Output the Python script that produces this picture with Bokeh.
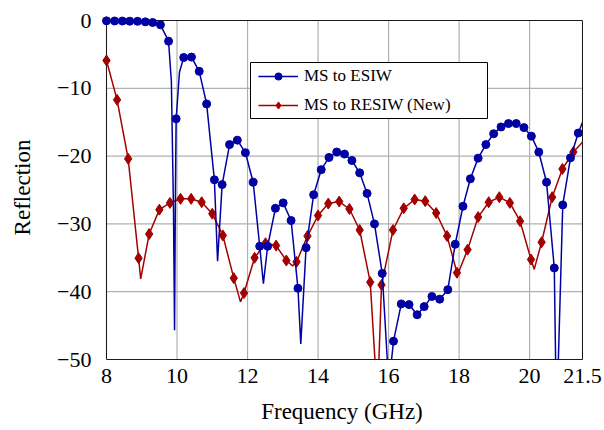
from bokeh.plotting import figure
from bokeh.models import Range1d, FixedTicker, LinearAxis, Legend, LegendItem, BoxAnnotation
from bokeh.embed import file_html
from bokeh.resources import INLINE

# ---------------- data ----------------
X_MIN, X_MAX = 8.0, 21.5
Y_MIN, Y_MAX = -50.0, 0.0
x_ticks = [8, 10, 12, 14, 16, 18, 20, 21.5]
x_tick_labels = ["8", "10", "12", "14", "16", "18", "20", "21.5"]
y_ticks = [-50, -40, -30, -20, -10, 0]
y_tick_labels = ["\u221250", "\u221240", "\u221230", "\u221220", "\u221210", "0"]

# MS to ESIW: marked samples
esiw_freq = [8.00, 8.23, 8.45, 8.66, 8.88, 9.10, 9.31, 9.53, 9.76, 9.975,
             10.19, 10.41, 10.63, 10.84, 11.06, 11.28, 11.49, 11.71, 11.94, 12.16,
             12.345, 12.57, 12.79, 13.01, 13.235, 13.43, 13.66, 13.875, 14.09, 14.31,
             14.53, 14.75, 14.96, 15.18, 15.39, 15.60, 15.82, 16.14, 16.36, 16.58,
             16.81, 17.01, 17.23, 17.45, 17.68, 17.89, 18.11, 18.32, 18.54, 18.76,
             18.98, 19.19, 19.40, 19.62, 19.84, 20.05, 20.26, 20.48, 20.70, 20.94,
             21.16, 21.38]
esiw_refl = [-0.05, -0.07, -0.08, -0.1, -0.12, -0.2, -0.3, -0.64, -3.05, -14.5,
             -5.46, -5.4, -7.5, -12.3, -23.5, -24.2, -18.3, -17.65, -19.5, -23.85,
             -33.3, -33.3, -27.7, -26.9, -29.5, -39.5, -33.5, -25.7, -22.0, -20.2,
             -19.4, -19.7, -20.65, -22.47, -25.5, -30.0, -37.3, -47.3, -41.8, -41.9,
             -43.4, -42.2, -40.7, -41.1, -39.7, -33.0, -27.4, -23.35, -20.3, -18.3,
             -16.7, -15.7, -15.2, -15.2, -15.8, -17.06, -19.4, -23.85, -36.5, -27.2,
             -20.25, -16.6]
# MS to ESIW: unmarked samples between marks (resonance dips, ends)
esiw_between_freq = [9.84, 9.90, 9.93, 9.955, 10.07, 11.15, 12.45, 13.51,
                     15.975, 16.02, 16.065, 20.74, 20.775, 20.81, 21.5]
esiw_between_refl = [-9.0, -28.0, -45.7, -25.0, -7.6, -35.5, -38.8, -47.7,
                     -51.0, -58.0, -51.0, -51.0, -60.0, -51.0, -15.0]

# MS to RESIW (New): marked samples
resiw_freq = [8.00, 8.30, 8.615, 8.91, 9.21, 9.50, 9.80, 10.10, 10.40, 10.70,
              11.00, 11.30, 11.61, 11.90, 12.20, 12.51, 12.81, 13.10, 13.39, 13.70,
              14.00, 14.29, 14.60, 14.89, 15.18, 15.48, 15.80, 16.125, 16.43, 16.74,
              17.04, 17.35, 17.66, 17.94, 18.24, 18.54, 18.84, 19.14, 19.44, 19.73,
              20.04, 20.34, 20.64, 20.93, 21.24]
resiw_refl = [-5.9, -11.7, -20.4, -35.05, -31.5, -27.9, -26.9, -26.3, -26.3, -26.8,
              -28.5, -31.7, -38.0, -40.2, -35.0, -32.85, -33.2, -35.4, -35.6, -31.8,
              -28.76, -27.0, -26.7, -27.8, -30.9, -38.6, -39.0, -30.9, -27.7, -26.4,
              -26.65, -28.4, -31.8, -37.2, -33.8, -29.0, -26.8, -26.06, -26.9, -29.6,
              -35.25, -32.7, -26.06, -21.9, -19.4]
resiw_between_freq = [8.97, 11.80, 13.28, 15.625, 15.67, 15.72, 17.96, 20.13, 21.5]
resiw_between_refl = [-38.1, -41.5, -36.2, -51.0, -58.0, -51.0, -37.5, -36.7, -17.95]

# ---------------- styling ----------------
BLUE = "#0000a3"
RED = "#a30000"
GRID = "#b0b0b0"
FONT = "Liberation Serif"

INNER_W, INNER_H = 476, 339   # plot box in px
PAD = 5                       # px of room for marks on the top/left edges
FRAME_W, FRAME_H = INNER_W + PAD, INNER_H + PAD
LEFT, TOP = 101, 15
W, H = 604, 430

x_start = X_MIN - PAD * (X_MAX - X_MIN) / INNER_W
y_end = Y_MAX + PAD * (Y_MAX - Y_MIN) / INNER_H


def merged(f, r, bf, br):
    pts = sorted(zip(list(f) + list(bf), list(r) + list(br)))
    return [a for a, _ in pts], [b for _, b in pts]


p = figure(width=W, height=H, output_backend="svg", toolbar_location=None,
           x_range=Range1d(x_start, X_MAX), y_range=Range1d(Y_MIN, y_end),
           min_border_left=LEFT, min_border_right=W - LEFT - FRAME_W,
           min_border_top=TOP, min_border_bottom=H - TOP - FRAME_H)
p.outline_line_color = None
p.xgrid.visible = False
p.ygrid.visible = False
p.background_fill_color = "white"
p.border_fill_color = "white"

# grid lines (within the axis box)
p.segment(x0=x_ticks, y0=[Y_MIN] * len(x_ticks), x1=x_ticks, y1=[Y_MAX] * len(x_ticks),
          line_color=GRID, line_width=1.2)
p.segment(x0=[X_MIN] * len(y_ticks), y0=y_ticks, x1=[X_MAX] * len(y_ticks), y1=y_ticks,
          line_color=GRID, line_width=1.2)
# left and top border of the axis box
p.segment(x0=[X_MIN, X_MIN], y0=[Y_MIN, Y_MAX], x1=[X_MIN, X_MAX], y1=[Y_MAX, Y_MAX],
          line_color="#1a1a1a", line_width=1)

bx, by = merged(esiw_freq, esiw_refl, esiw_between_freq, esiw_between_refl)
rx, ry = merged(resiw_freq, resiw_refl, resiw_between_freq, resiw_between_refl)

rl = p.line(rx, ry, line_color=RED, line_width=1.5)
rs = p.scatter(resiw_freq, resiw_refl, marker="diamond", size=11,
               fill_color=RED, line_color=RED)
bl = p.line(bx, by, line_color=BLUE, line_width=1.5)
bs = p.scatter(esiw_freq, esiw_refl, marker="circle", size=8,
               fill_color=BLUE, line_color=BLUE)

# axes
p.xaxis.ticker = FixedTicker(ticks=x_ticks)
p.xaxis.major_label_overrides = {t: l for t, l in zip(x_ticks, x_tick_labels)}
p.xaxis.bounds = (X_MIN, X_MAX)
p.xaxis.axis_label = "Frequency (GHz)"

p.yaxis.ticker = FixedTicker(ticks=y_ticks)
p.yaxis.major_label_overrides = {t: l for t, l in zip(y_ticks, y_tick_labels)}
p.yaxis.axis_label = "Reflection"
p.yaxis.axis_line_color = None

for ax in (p.xaxis, p.yaxis):
    ax.major_tick_line_color = None
    ax.minor_tick_line_color = None
    ax.major_label_text_font = FONT
    ax.major_label_text_font_size = "22px"
    ax.major_label_text_color = "black"
    ax.axis_label_text_font = FONT
    ax.axis_label_text_font_size = "23px"
    ax.axis_label_text_font_style = "normal"
    ax.axis_label_text_color = "black"

p.xaxis.axis_line_color = "#1a1a1a"
p.xaxis.major_label_standoff = 3
p.xaxis.axis_label_standoff = 13
p.yaxis.major_label_standoff = 4
p.yaxis.axis_label_standoff = 19

ra = LinearAxis(ticker=FixedTicker(ticks=[]), bounds=(Y_MIN, Y_MAX),
                axis_line_color="#1a1a1a", major_tick_line_color=None,
                minor_tick_line_color=None)
p.add_layout(ra, "right")

# legend frame (screen units, relative to the plot frame)
legend_box = BoxAnnotation(left=149, right=386, bottom=241, top=297,
                           left_units="screen", right_units="screen",
                           bottom_units="screen", top_units="screen",
                           fill_color="white", fill_alpha=1,
                           line_color="black", line_width=1, line_alpha=1)
p.add_layout(legend_box)

legend = Legend(items=[LegendItem(label="MS to ESIW", renderers=[bl, bs]),
                       LegendItem(label="MS to RESIW (New)", renderers=[rl, rs])],
                location=(157, 244), margin=0, padding=5, spacing=9,
                glyph_width=40, glyph_height=18, label_height=18,
                label_standoff=6, label_text_font=FONT, label_text_font_size="17px",
                label_text_color="black", border_line_color=None,
                background_fill_alpha=0)
p.add_layout(legend)

open("out.html", "w").write(file_html(p, INLINE))
